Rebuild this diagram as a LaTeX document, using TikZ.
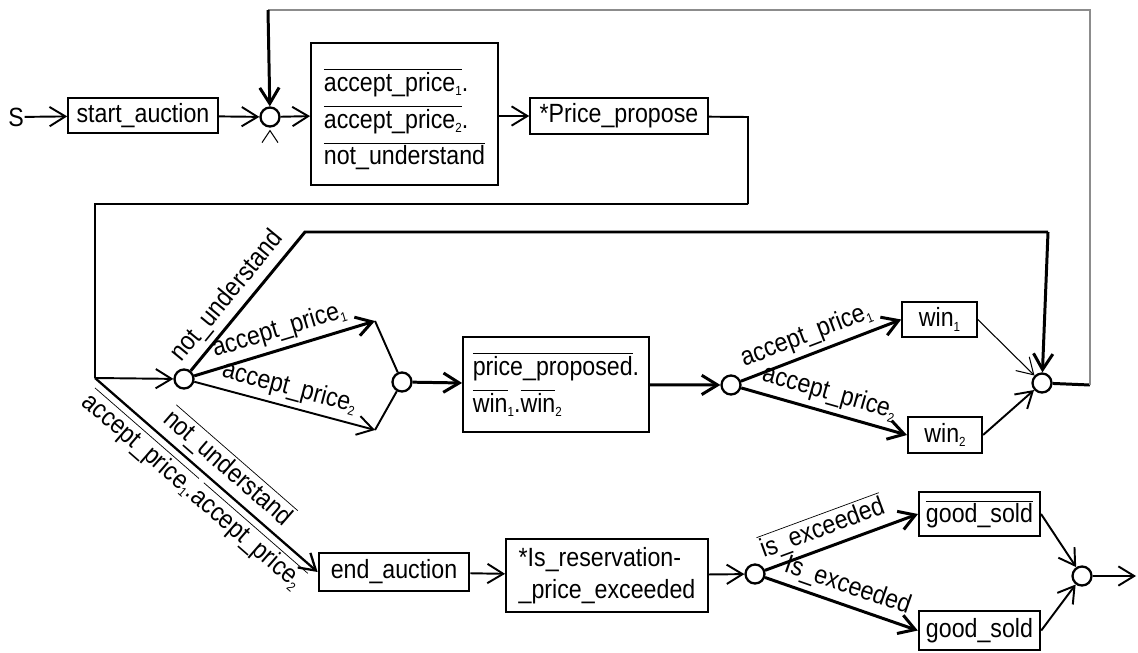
\documentclass[tikz,border=0pt]{standalone}
\usepackage{fontspec}
\setmainfont[FakeStretch=0.88]{Liberation Sans}
\usetikzlibrary{arrows.meta}
\newcommand{\ovl}[1]{$\overline{\mbox{#1}}$}
\newcommand{\idx}[1]{\raisebox{-2.5pt}{\fontsize{7.5}{8}\selectfont #1}}
\tikzset{
  every picture/.style={font=\fontsize{15}{18}\selectfont, line width=1.1pt},
  box/.style={draw, line width=#1, align=left, inner sep=3pt},
  box/.default=0.9pt,
  jn/.style={circle, draw, line width=1.3pt, minimum size=0.38cm, inner sep=0pt},
  arr/.style={-{Straight Barb[length=9pt, width=11pt]}},
  lbl/.style={sloped, inner sep=3pt},
}
\begin{document}
\begin{tikzpicture}[x=0.02cm, y=-0.02cm,
                    thk/.style={line width=1.7pt},
                    thn/.style={line width=0.6pt},
                    fb/.style={line width=0.8pt, draw=black!45}]
  \useasboundingbox (0,0) rectangle (1138,652);
  % top row
  \node[inner sep=0pt] (s) at (16,117) {S};
  \node[box, minimum width=3cm, minimum height=0.7cm] (start) at (143,115.5) {start\_auction};
  \node[jn] (j1) at (270,117) {};
  \node[box=1.1pt, minimum width=3.74cm, minimum height=2.84cm] (conds) at (404.5,114)
    {\rule{0pt}{19pt}\ovl{accept\_price\idx{1}}.\\[3pt]\ovl{accept\_price\idx{2}}.\\[3pt]\ovl{not\_understand}};
  \node[box, minimum width=3.56cm, minimum height=0.72cm] (propose) at (619,116) {*Price\_propose};
  % middle row
  \node[jn] (j2) at (184,379) {};
  \node[jn] (j3) at (402,382) {};
  \node[box=1.1pt, minimum width=3.72cm, minimum height=1.9cm] (proposed) at (556,384.5)
    {\ovl{price\_proposed}.\\[3pt]\ovl{win}\idx{1}.\ovl{win}\idx{2}};
  \node[jn] (j4) at (731,385) {};
  \node[box, minimum width=1.5cm, minimum height=0.7cm] (win1) at (939.5,319.5) {win\idx{1}};
  \node[box=1.2pt, minimum width=1.48cm, minimum height=0.72cm] (win2) at (945,435) {win\idx{2}};
  \node[jn] (j5) at (1042,383) {};
  % bottom row
  \node[box=1.6pt, minimum width=3cm, minimum height=0.76cm] (endauc) at (394,572) {end\_auction};
  \node[box=1.1pt, minimum width=4.04cm, minimum height=1.46cm] (reserve) at (607,575.5)
    {*Is\_reservation-\\\_price\_exceeded};
  \node[jn] (j6) at (755,574) {};
  \node[box=1.2pt, minimum width=2.42cm, minimum height=0.88cm] (sold1) at (979.5,514) {\ovl{good\_sold}};
  \node[box=1.4pt, minimum width=2.42cm, minimum height=0.78cm] (sold2) at (979.5,630.5) {good\_sold};
  \node[jn] (j7) at (1082,576) {};
  % bends and free ends
  \coordinate (a1) at (375,321);
  \coordinate (a2) at (375,430);
  \coordinate (c1) at (305,232);
  \coordinate (c2) at (1048,232);
  \coordinate (fbR) at (1090,385);
  \coordinate (fbT) at (1090,10);
  \coordinate (fbL) at (268,10);
  \coordinate (r1) at (748,117);
  \coordinate (r2) at (748,204);
  \coordinate (r3) at (95,204);
  \coordinate (r4) at (95,378);
  \coordinate (out) at (1136,576);

  \draw[arr] (s) -- (start);
  \draw[arr] (start) -- (j1);
  \draw[arr] (j1) -- (conds);
  \draw[arr] (conds.east |- propose) -- (propose);
  \draw[thn] (j1.south) ++(-8,15) -- ++(8,-12) -- ++(8,12);
  % loop back to the start
  \draw[thk] (j5) -- (fbR);
  \draw[fb] (fbR) -- (fbT) -- (fbL);
  \draw[thk, arr] (fbL) -- (j1);
  \draw (propose) -- (r1) -- (r2);
  \draw[thn] (r2) -- (r3) -- (r4);
  \draw[arr] (r4) -- (j2);
  \draw[arr, line width=1.3pt] (r4) -- node[lbl, above, pos=0.54] {\ovl{not\_understand}}
    node[lbl, below, pos=0.5] {\ovl{accept\_price\idx{1}}.\ovl{accept\_price\idx{2}}} (endauc.west);
  % bidding
  \draw[thk] (j2) -- node[lbl, above, pos=0.45] {not\_understand} (c1) -- (c2);
  \draw[thk, arr] (c2) -- (j5);
  \draw[thk, arr] (j2) -- node[lbl, above] {accept\_price\idx{1}} (a1);
  \draw[arr] (j2) -- node[lbl, above] {accept\_price\idx{2}} (a2);
  \draw (a1) -- (j3);
  \draw (a2) -- (j3);
  \draw[thk, arr] (j3) -- (proposed);
  \draw[thk, arr] (proposed) -- (j4);
  \draw[thk, arr] (j4) -- node[lbl, above, pos=0.45] {accept\_price\idx{1}} (win1.west);
  \draw[thk, arr] (j4) -- node[lbl, above] {accept\_price\idx{2}} (win2.west);
  \draw[thn, arr] (win1.east) -- (j5);
  \draw[arr] (win2.east) -- (j5);
  % closing
  \draw[arr] (endauc) -- (reserve);
  \draw[arr] (reserve) -- (j6);
  \draw[thk, arr] (j6) -- node[lbl, above, pos=0.42] {\ovl{is\_exceeded}} (sold1.west);
  \draw[thk, arr] (j6) -- node[lbl, above] {Is\_exceeded} (sold2.west);
  \draw[arr] (sold1.east) -- (j7);
  \draw[arr] (sold2.east) -- (j7);
  \draw[arr] (j7) -- (out);
\end{tikzpicture}
\end{document}
